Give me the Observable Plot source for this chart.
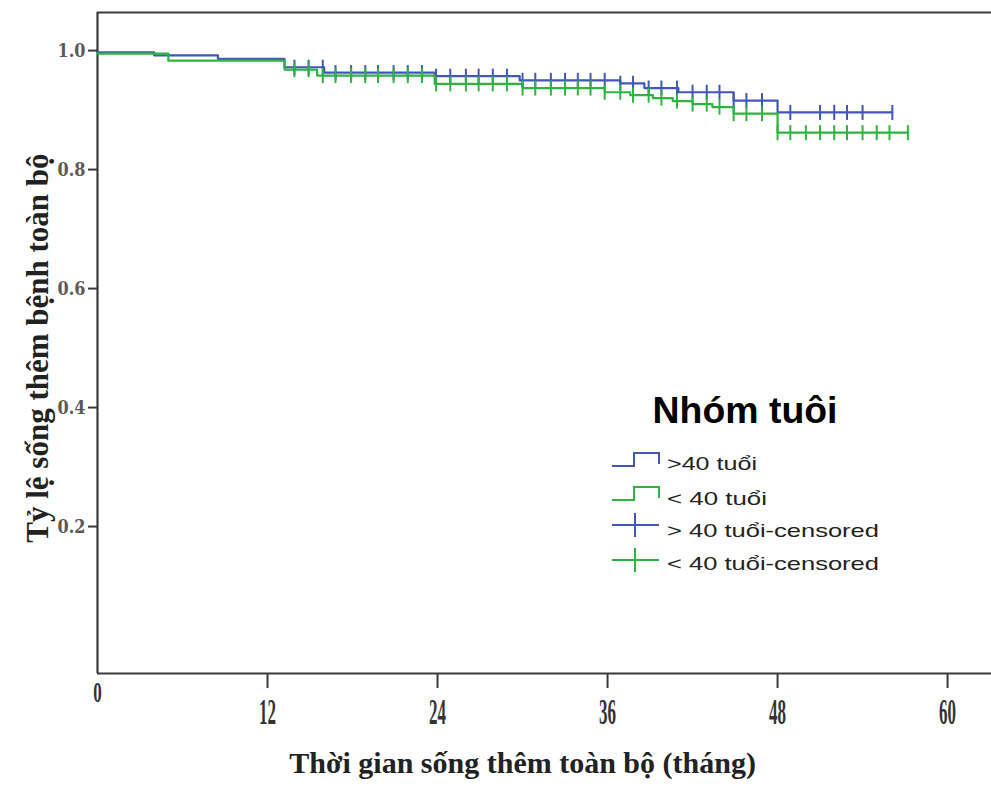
<!DOCTYPE html>
<html><head><meta charset="utf-8">
<script src="https://cdn.jsdelivr.net/npm/d3@7"></script>
<script src="https://cdn.jsdelivr.net/npm/@observablehq/plot@0.6"></script>
<style>
body{margin:0;background:#fff;}
#wrap{position:relative;width:991px;height:786px;overflow:hidden;background:#fff;}
#legend{position:absolute;left:0;top:0;pointer-events:none;}
</style></head><body><div id="wrap"></div>
<script>
// ---- data ----
const groups = [">40 tuổi", "< 40 tuổi"];
const blueTimes = [0, 4.0, 8.5, 13.2, 16.0, 23.8, 29.8, 36.9, 38.6, 41.0, 44.9, 48.0, 56.1];
const blueSurv  = [0.997, 0.992, 0.986, 0.972, 0.963, 0.957, 0.950, 0.945, 0.937, 0.930, 0.916, 0.896, 0.896];
const greenTimes = [0, 5.0, 13.2, 15.5, 23.8, 30.0, 35.8, 37.6, 39.2, 40.6, 42.0, 43.4, 44.9, 48.0, 57.2];
const greenSurv  = [0.995, 0.983, 0.968, 0.958, 0.944, 0.937, 0.930, 0.925, 0.920, 0.915, 0.910, 0.905, 0.894, 0.862, 0.862];
const blueCensored = [13.9,14.9,15.9,16.8,17.9,18.9,19.8,20.9,21.9,22.9,23.9,24.9,26.0,26.9,27.9,28.9,30.0,30.9,32.0,33.0,33.9,34.8,35.8,36.9,37.8,38.9,39.8,40.9,42.0,43.0,43.9,44.9,45.8,46.9,48.9,51.0,52.0,52.9,54.0,56.1];
const greenCensored = [13.9,14.9,15.9,16.8,17.9,18.9,19.8,20.9,21.9,22.9,23.9,24.9,26.0,26.9,27.9,28.9,30.0,30.9,32.0,33.0,33.9,34.8,35.8,36.9,37.8,38.9,39.8,40.9,42.0,43.0,43.9,44.9,45.8,46.9,48.0,48.9,50.0,51.0,52.0,52.9,54.0,55.0,55.9,57.2];
const xTicks = [12, 24, 36, 48, 60];
const xOrigin = [0];
const yTicks = [0.2, 0.4, 0.6, 0.8, 1.0];
const xDomain = [0, 63.1];
const yDomain = [-0.047, 1.064];
const xTitle = "Thời gian sống thêm toàn bộ (tháng)";
const yTitle = "Tỷ lệ sống thêm bệnh toàn bộ";
const legendTitle = "Nhóm tuôi";
const legendLabels = [">40 tuổi", "< 40 tuổi", "> 40 tuổi-censored", "< 40 tuổi-censored"];
const colors = ["#4257b8", "#2db53f"];

// ---- build tables ----
function stepAt(times, surv, t) { let v = surv[0]; for (let i = 0; i < times.length; i++) if (times[i] <= t) v = surv[i]; return v; }
const curves = [
  ...blueTimes.map((t, i) => ({g: groups[0], t, s: blueSurv[i]})),
  ...greenTimes.map((t, i) => ({g: groups[1], t, s: greenSurv[i]}))
];
const censored = [
  ...blueCensored.map(t => ({g: groups[0], t, s: stepAt(blueTimes, blueSurv, t)})),
  ...greenCensored.map(t => ({g: groups[1], t, s: stepAt(greenTimes, greenSurv, t)}))
];
const vbar = {draw(ctx, size) { const r = Math.sqrt(size / Math.PI); ctx.moveTo(0, -r); ctx.lineTo(0, r); }};

const serif = "'Liberation Serif','Times New Roman',serif";
const chart = Plot.plot({
  width: 991, height: 786,
  marginLeft: 97, marginRight: 0, marginTop: 12, marginBottom: 113,
  style: {background: "#fff", overflow: "visible", color: "#3a3a3a"},
  x: {domain: xDomain, ticks: xTicks, tickSize: 15, tickFormat: () => "", label: null},
  y: {domain: yDomain, ticks: yTicks, tickSize: 9, tickPadding: 3, tickFormat: d => d.toFixed(1), label: null},
  color: {domain: groups, range: colors},
  marks: [
    Plot.ruleY([yDomain[1]], {stroke: "#3a3a3a", strokeWidth: 2.2}),
    Plot.ruleY([yDomain[0]], {stroke: "#3a3a3a", strokeWidth: 2.2}),
    Plot.ruleX([xDomain[0]], {stroke: "#3a3a3a", strokeWidth: 2.2}),
    Plot.text(xTicks, {x: d => d, frameAnchor: "bottom", dy: 50, text: d => String(d), fontFamily: serif, fontWeight: "bold", fontSize: 35, fill: "#333"}),
    Plot.text(xOrigin, {x: d => d, frameAnchor: "bottom", dy: 28, text: d => String(d), fontFamily: serif, fontWeight: "bold", fontSize: 30, fill: "#333"}),
    Plot.text([xTitle], {x: () => 30, frameAnchor: "bottom", dy: 99, textAnchor: "middle", text: d => d, fontFamily: serif, fontWeight: "bold", fontSize: 30, fill: "#222"}),
    Plot.text([yTitle], {y: () => 0.5, frameAnchor: "left", dx: -59, rotate: -90, textAnchor: "middle", text: d => d, fontFamily: serif, fontWeight: "bold", fontSize: 31, fill: "#222"}),
    Plot.line(curves, {x: "t", y: "s", z: "g", stroke: "g", curve: "step-after", strokeWidth: 2.2}),
    Plot.dot(censored, {x: "t", y: "s", stroke: "g", symbol: vbar, r: 7.5, strokeWidth: 2, fill: "none"})
  ]
});
document.getElementById("wrap").appendChild(chart);
const svg = d3.select(chart.tagName.toLowerCase() === "svg" ? chart : chart.querySelector("svg"));
// style the y tick labels and tick lines
svg.selectAll("g[aria-label^='y-axis'] text").attr("font-family", "'DejaVu Serif',serif").attr("font-weight", "bold").attr("font-size", 19).attr("fill", "#5a5a5a")
  .attr("textLength", 28).attr("lengthAdjust", "spacingAndGlyphs");
svg.selectAll("g[aria-label^='y-axis'], g[aria-label^='x-axis']").selectAll("line, path").attr("stroke-width", 2);
// narrow the x tick labels
svg.selectAll("g[aria-label='text'] text").each(function() {
  if (/^\d+$/.test(this.textContent)) {
    d3.select(this).attr("textLength", 8.5 * this.textContent.length).attr("lengthAdjust", "spacingAndGlyphs");
  }
});

// ---- legend overlay ----
const lg = d3.select("#wrap").append("svg").attr("id", "legend").attr("width", 991).attr("height", 786);
lg.append("text").text(legendTitle).attr("x", 745).attr("y", 423).attr("text-anchor", "middle")
  .attr("font-family", "'Liberation Sans',Arial,sans-serif").attr("font-weight", "bold").attr("font-size", 36)
  .attr("textLength", 185).attr("lengthAdjust", "spacingAndGlyphs").attr("fill", "#000");
const rows = [
  {c: colors[0], kind: "step", y: 466, base: 470, w: 90},
  {c: colors[1], kind: "step", y: 500, base: 505, w: 100},
  {c: colors[0], kind: "cens", y: 525, base: 537, w: 212},
  {c: colors[1], kind: "cens", y: 560, base: 570, w: 212}
];
rows.forEach((r, i) => {
  if (r.kind === "step") {
    lg.append("path").attr("d", `M612,${r.y}H634V${r.y - 13}H659V${r.y - 2}`).attr("fill", "none").attr("stroke", r.c).attr("stroke-width", 2);
  } else {
    lg.append("path").attr("d", `M612,${r.y}H659M635,${r.y - 12}V${r.y + 12}`).attr("fill", "none").attr("stroke", r.c).attr("stroke-width", 2);
  }
  lg.append("text").text(legendLabels[i]).attr("x", 667).attr("y", r.base)
    .attr("font-family", "'Liberation Sans',Arial,sans-serif").attr("font-size", 19).attr("fill", "#222")
    .attr("textLength", r.w).attr("lengthAdjust", "spacingAndGlyphs");
});
</script></body></html>
